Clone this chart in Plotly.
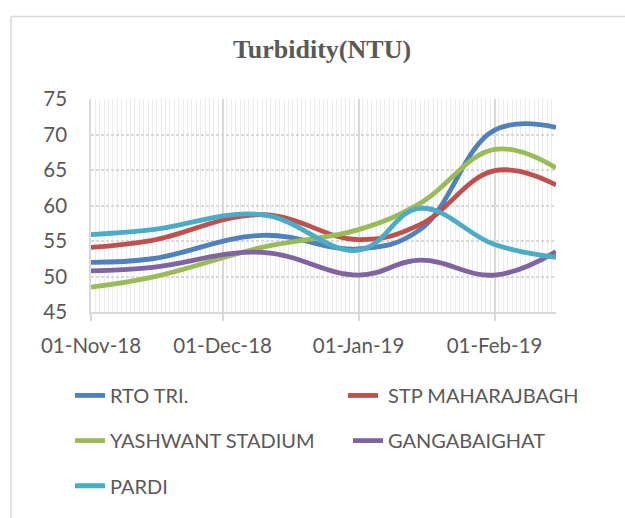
import plotly.graph_objects as go

dates = ["2018-11-01", "2018-11-15", "2018-12-10", "2019-01-01",
         "2019-01-15", "2019-02-01", "2019-02-15"]

rto_tri = [52.0, 52.5, 55.8, 53.9, 56.6, 70.6, 71.0]
stp_maharajbagh = [54.1, 55.1, 58.7, 55.2, 57.3, 64.9, 62.9]
yashwant_stadium = [48.5, 49.9, 54.1, 56.6, 60.3, 67.9, 65.3]
gangabaighat = [50.8, 51.3, 53.4, 50.2, 52.3, 50.2, 53.5]
pardi = [55.9, 56.6, 58.7, 53.7, 59.6, 54.5, 52.7]

series_names = ["RTO TRI.", " STP MAHARAJBAGH", "YASHWANT STADIUM", "GANGABAIGHAT", "PARDI"]
series_values = [rto_tri, stp_maharajbagh, yashwant_stadium, gangabaighat, pardi]
colors = ["#4F81BD", "#C0504D", "#9BBB59", "#8064A2", "#4BACC6"]
legend_ids = ["legend", "legend2", "legend3", "legend4", "legend5"]

y_ticks = [45, 50, 55, 60, 65, 70, 75]

fig = go.Figure()
for name, vals, col, lg in zip(series_names, series_values, colors, legend_ids):
    fig.add_trace(go.Scatter(
        x=dates, y=vals, name=name, mode="lines",
        line=dict(color=col, width=4.8, shape="spline", smoothing=1.15),
        legend=lg, showlegend=True,
    ))

W, H = 625, 518
L, R, T, B = 91, 69, 99, 202
pw, ph = W - L - R, H - T - B

def px_to_paper_x(px):
    return (px - L) / pw

def px_to_paper_y(py):
    return (H - B - py) / ph

legend_common = dict(
    orientation="h",
    font=dict(family="Lato, Carlito, sans-serif", size=20, color="#595959"),
    xanchor="left", yanchor="middle", bgcolor="rgba(0,0,0,0)",
)

legend_pos = {
    "legend": (70, 401), "legend2": (343, 401),
    "legend3": (70, 447), "legend4": (348, 447),
    "legend5": (70, 493),
}

layout_legends = {k: dict(x=px_to_paper_x(v[0]), y=px_to_paper_y(v[1]), **legend_common)
                  for k, v in legend_pos.items()}

fig.update_layout(
    width=W, height=H, showlegend=True,
    margin=dict(l=L, r=R, t=T, b=B),
    paper_bgcolor="white", plot_bgcolor="white",
    title=dict(text="<b>Turbidity(NTU)</b>", x=px_to_paper_x(322), xref="paper",
               y=1 - 49 / H, yref="container", xanchor="center", yanchor="middle",
               font=dict(family="Liberation Serif, Times New Roman, serif", size=26, color="#595959")),
    xaxis=dict(
        type="date", range=["2018-11-01", "2019-02-15"],
        tickformat="%d-%b-%y", dtick="M1", tick0="2018-11-01",
        showgrid=True, gridcolor="#d9d9d9", gridwidth=1.5,
        minor=dict(dtick=86400000, showgrid=True, gridcolor="#ebebeb", gridwidth=1),
        showline=True, linecolor="#d9d9d9", linewidth=1.5,
        ticks="outside", ticklen=7, tickcolor="#d9d9d9", tickwidth=1.5,
        ticklabelstandoff=8,
        tickfont=dict(family="Lato, Carlito, sans-serif", size=20.5, color="#595959"),
        zeroline=False,
    ),
    yaxis=dict(
        range=[45, 75], tickvals=y_ticks,
        showgrid=True, gridcolor="#d9d9d9", gridwidth=1.5, griddash="3px,2px",
        showline=True, linecolor="#d9d9d9", linewidth=1.5,
        ticks="", ticklabelstandoff=18,
        tickfont=dict(family="Lato, Carlito, sans-serif", size=20.5, color="#595959"),
        zeroline=False,
    ),
    shapes=[
        dict(type="line", xref="paper", yref="paper",
             x0=px_to_paper_x(11), x1=px_to_paper_x(11),
             y0=px_to_paper_y(15), y1=px_to_paper_y(530),
             line=dict(color="#d9d9d9", width=1.5)),
        dict(type="line", xref="paper", yref="paper",
             x0=px_to_paper_x(11), x1=px_to_paper_x(640),
             y0=px_to_paper_y(15), y1=px_to_paper_y(15),
             line=dict(color="#d9d9d9", width=1.5)),
    ],
    **layout_legends,
)

fig.write_html("out.html", config={"displayModeBar": False},
               post_script="document.body.style.margin='0px';")
